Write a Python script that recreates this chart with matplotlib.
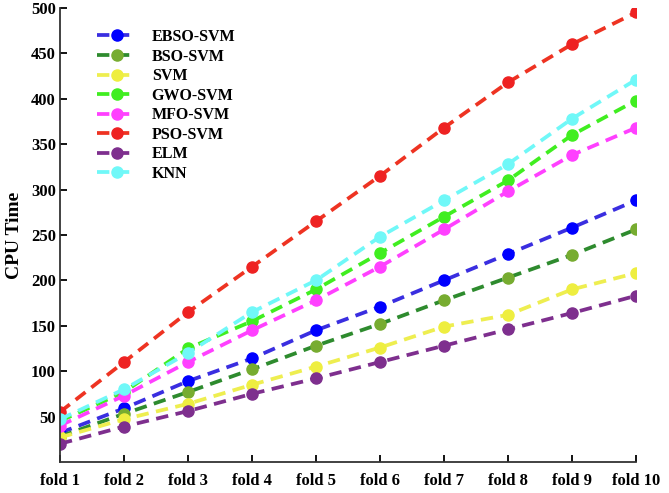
import numpy as np
import matplotlib.pyplot as plt

folds = ['fold 1', 'fold 2', 'fold 3', 'fold 4', 'fold 5',
         'fold 6', 'fold 7', 'fold 8', 'fold 9', 'fold 10']

ebso_svm = [32, 59, 89, 114, 145, 171, 200, 229, 258, 288]
bso_svm = [28, 53, 77, 102, 128, 152, 178, 203, 228, 256]
svm = [27, 47, 64, 85, 105, 126, 149, 162, 190, 208]
gwo_svm = [45, 77, 125, 155, 190, 230, 270, 310, 360, 398]
mfo_svm = [40, 73, 110, 145, 178, 215, 256, 298, 338, 368]
pso_svm = [55, 110, 165, 215, 265, 315, 368, 418, 460, 495]
elm = [20, 39, 56, 75, 92, 110, 128, 146, 164, 183]
knn = [47, 80, 120, 165, 200, 248, 288, 328, 378, 421]

# (label, values, line colour, marker colour)
series = [
    ('EBSO-SVM', ebso_svm, '#3a2ee0', '#0000ff'),
    ('BSO-SVM', bso_svm, '#2e8b2e', '#77ac30'),
    ('SVM', svm, '#eeee50', '#eeee40'),
    ('GWO-SVM', gwo_svm, '#40ee20', '#40ee20'),
    ('MFO-SVM', mfo_svm, '#ff40ff', '#ff40ff'),
    ('PSO-SVM', pso_svm, '#ee3322', '#ee2222'),
    ('ELM', elm, '#7e2f8e', '#7e2f8e'),
    ('KNN', knn, '#70f8f8', '#70f8f8'),
]

plt.rcParams['font.family'] = ['Liberation Serif', 'DejaVu Serif']
plt.rcParams['font.weight'] = 'bold'

fig = plt.figure(figsize=(6.69, 4.93), dpi=100)
ax = fig.add_axes([0.0897, 0.063, 0.861, 0.921])

x = np.arange(len(folds))
for label, vals, lc, mc in series:
    ax.plot(x, vals, linestyle=(0, (3.3, 2.0)), linewidth=2.7, color=lc,
            marker='o', markersize=8, markerfacecolor=mc,
            markeredgecolor=mc, label=label)

ax.set_xlim(0, 9)
ax.set_ylim(0, 500)
ax.set_xticks(x)
ax.set_xticklabels(folds)
ax.set_yticks(np.arange(50, 501, 50))
ax.tick_params(labelsize=12, width=1.3, length=5, direction='in')
ax.tick_params(axis='x', pad=8)
ax.tick_params(axis='y', pad=3)
for s in ['top', 'right']:
    ax.spines[s].set_visible(False)
for s in ['left', 'bottom']:
    ax.spines[s].set_linewidth(1.3)
    ax.spines[s].set_color('#333333')
for lbl in ax.get_xticklabels() + ax.get_yticklabels():
    lbl.set_fontweight('bold')

ax.set_ylabel('CPU Time', fontsize=14, fontweight='bold', labelpad=6)

ax.legend(loc='upper left', bbox_to_anchor=(0.04, 0.985), frameon=False,
          handlelength=2.4, handletextpad=1.0, labelspacing=0.22,
          prop={'weight': 'bold', 'size': 11.5})

fig.savefig('out.png', dpi=100)
